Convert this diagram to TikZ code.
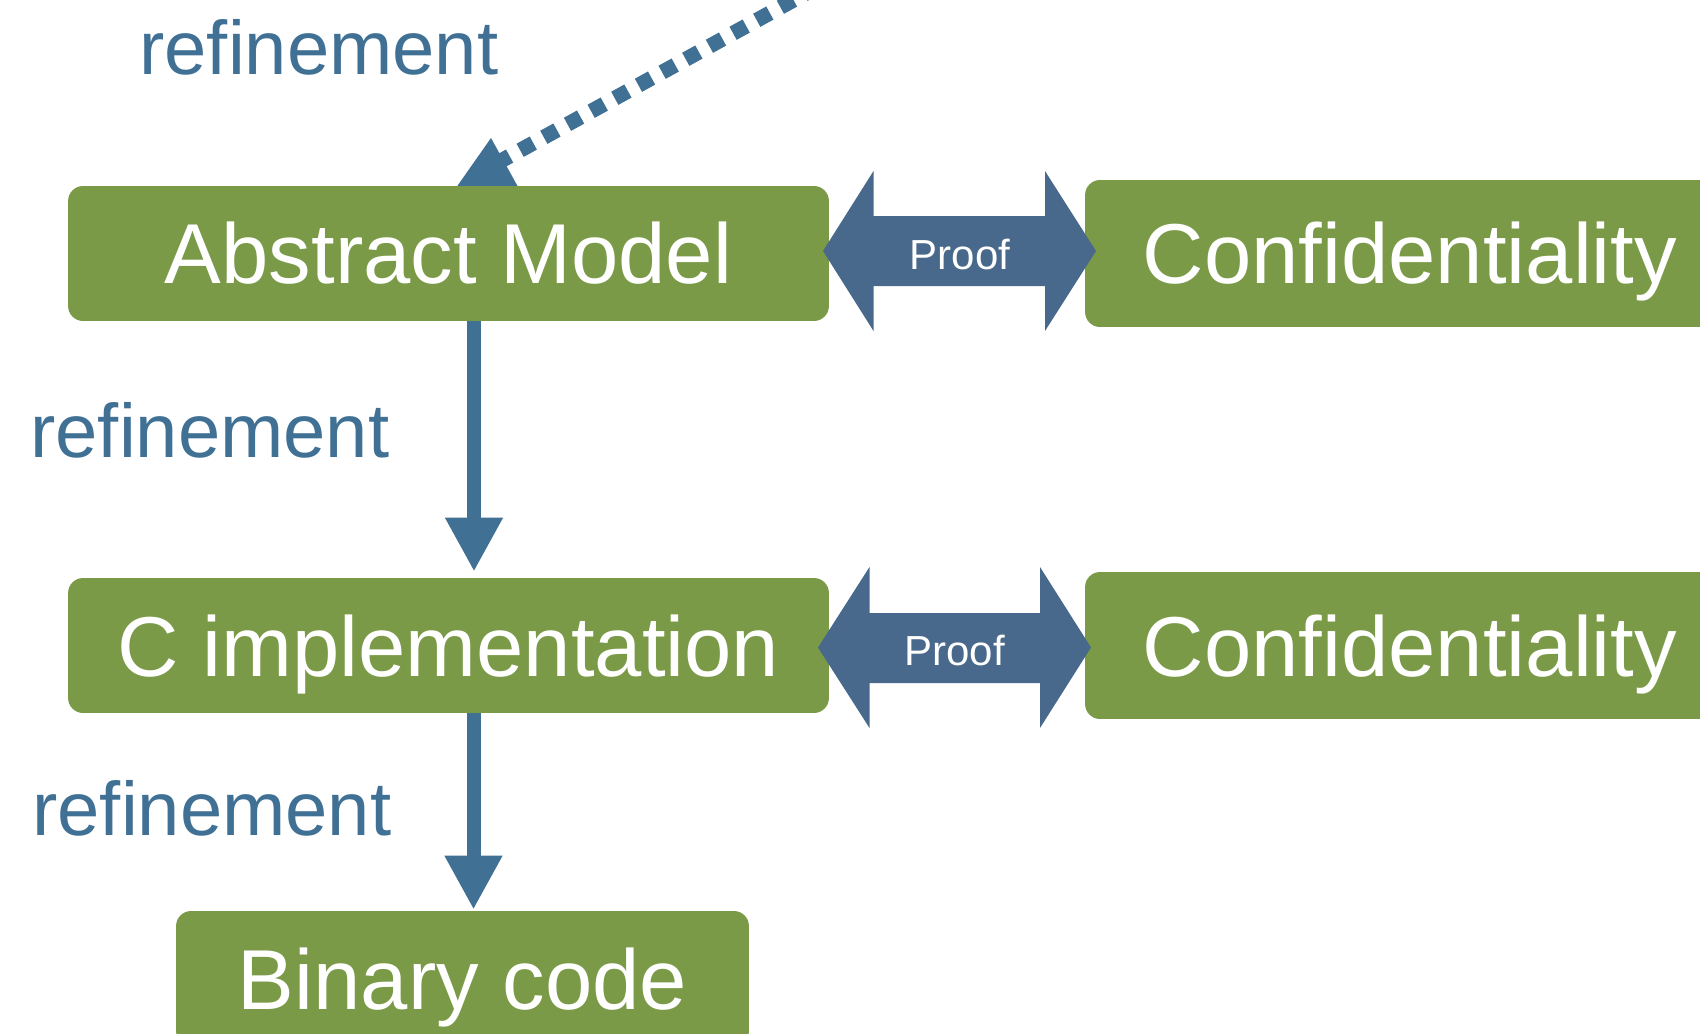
\documentclass[tikz,border=0pt]{standalone}
\usepackage{fontspec}
\setmainfont{Liberation Sans}
\usetikzlibrary{arrows.meta,calc}
\definecolor{boxgreen}{HTML}{7A9A48}
\definecolor{refblue}{HTML}{407094}
\definecolor{proofblue}{HTML}{48688C}
\begin{document}
\begin{tikzpicture}[x=0.02cm,y=-0.02cm,
  box/.style={draw=none, fill=boxgreen, rounded corners=0.3cm, text=white, inner sep=0pt,
    font=\fontsize{48.4pt}{58pt}\selectfont, text height=1.22cm, text depth=0pt},
  reflabel/.style={text=refblue, font=\fontsize{43.25pt}{52pt}\selectfont, anchor=base west, inner sep=0pt},
  prooflabel/.style={text=white, font=\fontsize{23.9pt}{29pt}\selectfont, anchor=base, inner sep=0pt},
  refarrow/.style={draw=refblue, line width=0.28cm, -{Triangle[width=1.08cm,length=1.08cm]}},
  dotline/.style={draw=refblue, line width=0.3cm, dash pattern=on 0.3cm off 0.24cm},
  proofarrow/.style={fill=proofblue, draw=none}]
\useasboundingbox (0,0) rectangle (1700,1034);
\clip (0,0) rectangle (1700,1034);

% dotted refinement arrow coming from above
\coordinate (dA) at (496.5,163.3);
\coordinate (dB) at (830,-20);
\draw[dotline] (dA) -- (dB);
\fill[refblue] (491,138) -- (451,195) -- (522.5,195) -- cycle;

% boxes
\node[box, minimum width=15.22cm, minimum height=2.7cm] (am) at (448.5,253.5) {Abstract Model};
\node[box, minimum width=13cm, minimum height=2.94cm] (c1) at (1410,253.5) {Confidentiality};
\node[box, minimum width=15.22cm, minimum height=2.7cm] (ci) at (448.5,645.5) {C implementation};
\node[box, minimum width=13cm, minimum height=2.94cm] (c2) at (1410,645.5) {Confidentiality};
\node[box, minimum width=11.46cm, minimum height=2.7cm] (bc) at (462.5,978.5) {Binary code};

% refinement arrows
\draw[refarrow] ($(am.south)+(25.5,0)$) -- ($(ci.north)+(25.5,-6)$);
\draw[refarrow] ($(ci.south)+(25,0)$) -- ($(bc.north)+(11,-1)$);

% labels
\node[reflabel] (r1) at (139,75) {refinement};
\node[reflabel] (r2) at (30,457) {refinement};
\node[reflabel] (r3) at (32,835) {refinement};

% proof double arrows
\fill[proofarrow] (823,251) -- (873.5,171) -- (873.5,216) -- (1045,216) -- (1045,171) -- (1096,251)
  -- (1045,331) -- (1045,286) -- (873.5,286) -- (873.5,331) -- cycle;
\fill[proofarrow] (818,647.5) -- (869.5,567) -- (869.5,613) -- (1040,613) -- (1040,567) -- (1091,647.5)
  -- (1040,728) -- (1040,683) -- (869.5,683) -- (869.5,728) -- cycle;
\node[prooflabel] (p1) at (960,269) {Proof};
\node[prooflabel] (p2) at (954.5,665.5) {Proof};
\end{tikzpicture}
\end{document}
